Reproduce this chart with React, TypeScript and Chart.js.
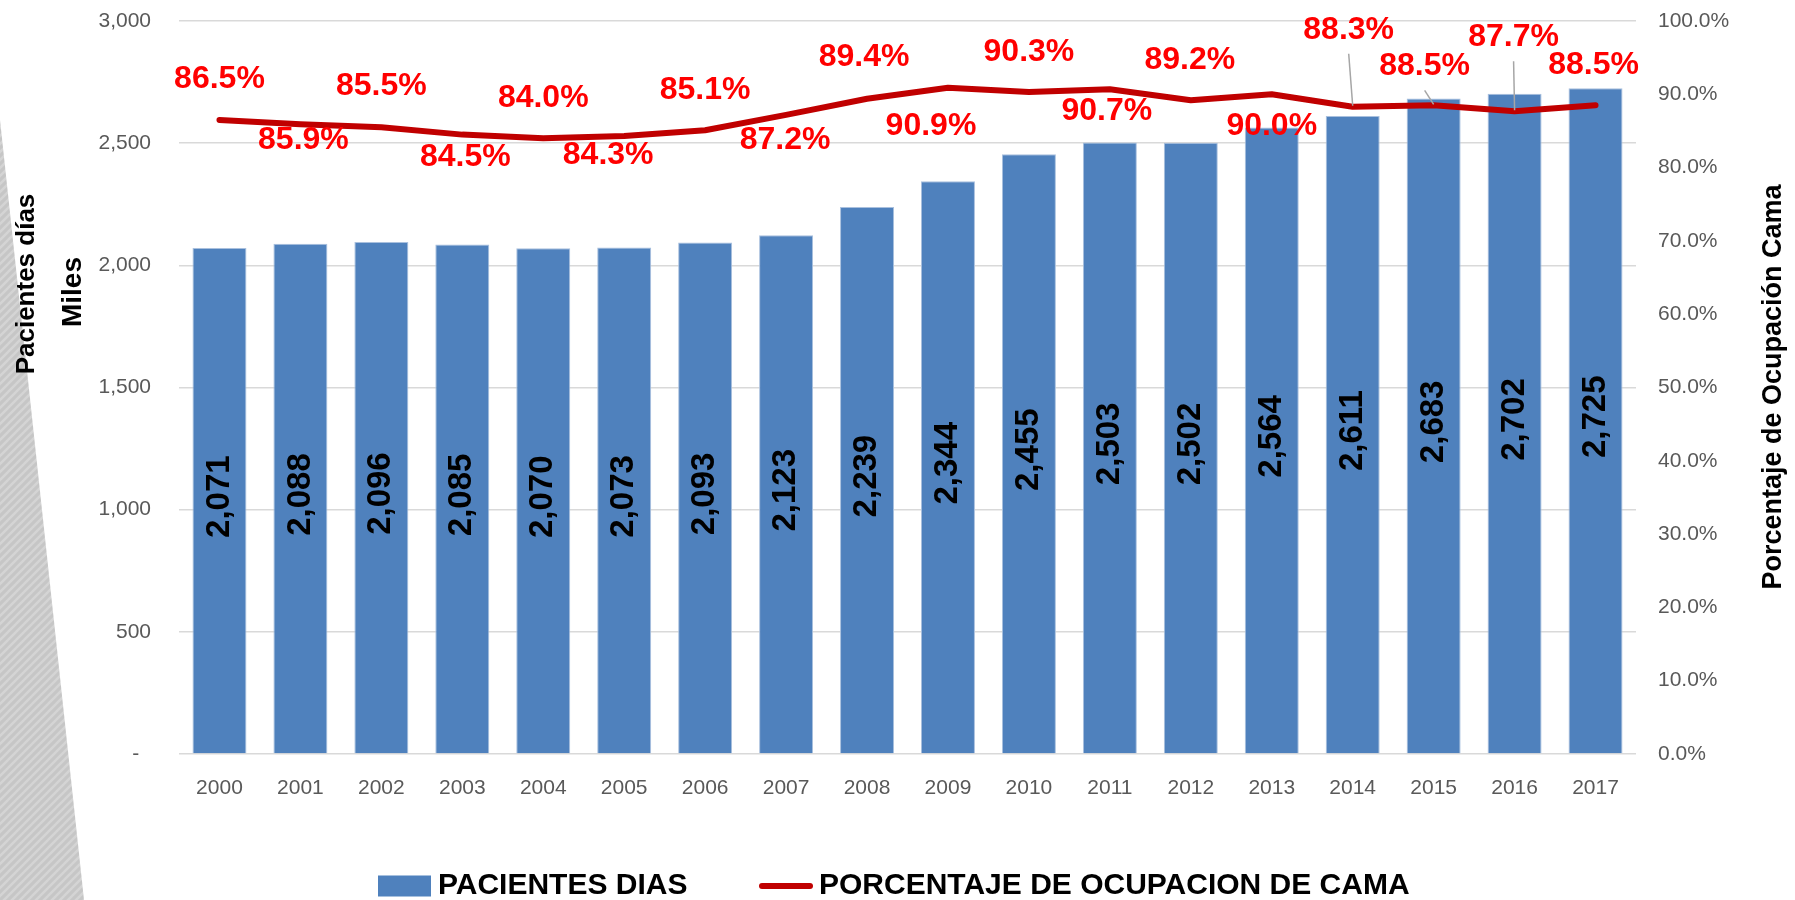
import React, { useEffect, useRef } from 'react';
import { Chart, registerables } from 'chart.js';

Chart.register(...registerables);

const years = ['2000', '2001', '2002', '2003', '2004', '2005', '2006', '2007', '2008', '2009', '2010', '2011', '2012', '2013', '2014', '2015', '2016', '2017'];
const pacientesDias = [2071, 2088, 2096, 2085, 2070, 2073, 2093, 2123, 2239, 2344, 2455, 2503, 2502, 2564, 2611, 2683, 2702, 2725];
const ocupacionCama = [86.5, 85.9, 85.5, 84.5, 84.0, 84.3, 85.1, 87.2, 89.4, 90.9, 90.3, 90.7, 89.2, 90.0, 88.3, 88.5, 87.7, 88.5];

const seriesBarName = 'PACIENTES DIAS';
const seriesLineName = 'PORCENTAJE DE OCUPACION DE CAMA';
const leftTitle = 'Pacientes días';
const leftUnits = 'Miles';
const rightTitle = 'Porcentaje de Ocupación Cama';

// label placement (offset from the point, px)
const pctLabelDy = [-41, 16, -41, 23, -40, 19, -40, 25, -42, 38, -40, 22, -40, 32, -77, -39, -74, -40];
const pctLabelDx = [0, 3, 0, 3, 0, -16, 0, -1, -3, -17, 0, -3, -1, 0, -4, -9, -1, -2];
const leaderIdx = [14, 15, 16];

const FONT = "'Liberation Sans', Arial, sans-serif";
const BAR_COLOR = '#4F81BD';
const LINE_COLOR = '#C00000';

const fmt = (v: number) => v.toLocaleString('en-US');

const decorPlugin = {
  id: 'decor',
  beforeDraw(chart: any) {
    const ctx = chart.ctx as CanvasRenderingContext2D;
    ctx.save();
    ctx.fillStyle = '#ffffff';
    ctx.fillRect(0, 0, chart.width, chart.height);
    const pc = document.createElement('canvas');
    pc.width = 8;
    pc.height = 8;
    const p = pc.getContext('2d')!;
    p.fillStyle = '#c6c6c6';
    p.fillRect(0, 0, 8, 8);
    p.strokeStyle = '#d4d4d4';
    p.lineWidth = 2.5;
    p.beginPath();
    p.moveTo(0, 8); p.lineTo(8, 0);
    p.moveTo(-4, 4); p.lineTo(4, -4);
    p.moveTo(4, 12); p.lineTo(12, 4);
    p.stroke();
    const pat = ctx.createPattern(pc, 'repeat');
    if (pat) ctx.fillStyle = pat;
    ctx.beginPath();
    ctx.moveTo(0, 120);
    ctx.lineTo(84, 900);
    ctx.lineTo(0, 900);
    ctx.closePath();
    ctx.fill();
    ctx.restore();
  },
  afterDatasetsDraw(chart: any) {
    const ctx = chart.ctx as CanvasRenderingContext2D;
    ctx.save();
    // bar value labels
    const barMeta = chart.getDatasetMeta(0);
    ctx.font = `bold 33px ${FONT}`;
    ctx.fillStyle = '#000000';
    ctx.textAlign = 'center';
    ctx.textBaseline = 'middle';
    barMeta.data.forEach((el: any, i: number) => {
      const cy = (el.y + el.base) / 2 - 4;
      ctx.save();
      ctx.translate(el.x, cy);
      ctx.rotate(-Math.PI / 2);
      ctx.fillText(fmt(pacientesDias[i]), 0, 0);
      ctx.restore();
    });
    // line labels
    const lineMeta = chart.getDatasetMeta(1);
    lineMeta.data.forEach((el: any, i: number) => {
      const lx = el.x + pctLabelDx[i];
      const ly = el.y + pctLabelDy[i];
      if (leaderIdx.includes(i)) {
        ctx.strokeStyle = '#a6a6a6';
        ctx.lineWidth = 1.5;
        ctx.beginPath();
        ctx.moveTo(lx, ly + 24);
        ctx.lineTo(el.x, el.y - 1);
        ctx.stroke();
      }
    });
    ctx.font = `bold 32px ${FONT}`;
    ctx.fillStyle = '#FF0000';
    lineMeta.data.forEach((el: any, i: number) => {
      const lx = el.x + pctLabelDx[i];
      const ly = el.y + pctLabelDy[i];
      ctx.fillText(ocupacionCama[i].toFixed(1) + '%', lx, ly);
    });
    ctx.restore();
  },
  afterDraw(chart: any) {
    const ctx = chart.ctx as CanvasRenderingContext2D;
    ctx.save();
    ctx.fillStyle = '#000000';
    ctx.textAlign = 'center';
    ctx.textBaseline = 'middle';
    // left titles
    ctx.font = `bold 26px ${FONT}`;
    ctx.save();
    ctx.translate(27, 284);
    ctx.rotate(-Math.PI / 2);
    ctx.fillText(leftTitle, 0, 0);
    ctx.restore();
    ctx.font = `bold 28px ${FONT}`;
    ctx.save();
    ctx.translate(73, 292);
    ctx.rotate(-Math.PI / 2);
    ctx.fillText(leftUnits, 0, 0);
    ctx.restore();
    // right title
    ctx.font = `bold 27px ${FONT}`;
    ctx.save();
    ctx.translate(1774, 387);
    ctx.rotate(-Math.PI / 2);
    ctx.fillText(rightTitle, 0, 0);
    ctx.restore();
    // legend
    const ly = 886;
    ctx.fillStyle = BAR_COLOR;
    ctx.fillRect(378, ly - 10.5, 53, 21);
    ctx.strokeStyle = LINE_COLOR;
    ctx.lineWidth = 6;
    ctx.lineCap = 'round';
    ctx.beginPath();
    ctx.moveTo(762, ly);
    ctx.lineTo(810, ly);
    ctx.stroke();
    ctx.fillStyle = '#000000';
    ctx.font = `bold 30px ${FONT}`;
    ctx.textAlign = 'left';
    ctx.fillText(seriesBarName, 438, ly);
    ctx.fillText(seriesLineName, 819, ly);
    ctx.restore();
  },
};

export default function App() {
  const ref = useRef<HTMLCanvasElement | null>(null);
  useEffect(() => {
    if (!ref.current) return;
    Chart.defaults.font.family = FONT;
    const chart = new Chart(ref.current, {
      type: 'bar',
      data: {
        labels: years,
        datasets: [
          {
            type: 'bar',
            label: seriesBarName,
            data: pacientesDias,
            backgroundColor: BAR_COLOR,
            borderColor: '#a9c0de',
            borderWidth: 1,
            barPercentage: 0.667,
            categoryPercentage: 1,
            yAxisID: 'y',
            order: 2,
          },
          {
            type: 'line',
            label: seriesLineName,
            data: ocupacionCama,
            borderColor: LINE_COLOR,
            backgroundColor: LINE_COLOR,
            borderWidth: 6,
            borderCapStyle: 'round',
            borderJoinStyle: 'round',
            pointRadius: 0,
            tension: 0,
            yAxisID: 'y2',
            order: 1,
          },
        ],
      } as any,
      options: {
        responsive: false,
        animation: false,
        layout: { padding: { top: 21, left: 0, right: 0, bottom: 0 } },
        plugins: {
          legend: { display: false },
          tooltip: { enabled: false },
        },
        scales: {
          x: {
            grid: { display: false, drawTicks: false },
            border: { display: false },
            ticks: { color: '#595959', font: { size: 21 }, padding: 22, maxRotation: 0 },
            afterFit: (s: any) => { s.height = 146; },
          },
          y: {
            position: 'left',
            min: 0,
            max: 3000,
            grid: { color: '#d9d9d9', lineWidth: 1.5, drawTicks: false },
            border: { display: false },
            ticks: {
              stepSize: 500,
              color: '#595959',
              font: { size: 21 },
              padding: 28,
              callback: (v: any) => (v === 0 ? '-  ' : fmt(Number(v))),
            },
            afterFit: (s: any) => { s.width = 179; s.paddingTop = 0; s.paddingBottom = 0; },
          },
          y2: {
            position: 'right',
            min: 0,
            max: 100,
            grid: { display: false, drawTicks: false },
            border: { display: false },
            ticks: {
              stepSize: 10,
              color: '#595959',
              font: { size: 21 },
              padding: 22,
              callback: (v: any) => Number(v).toFixed(1) + '%',
            },
            afterFit: (s: any) => { s.width = 159; s.paddingTop = 0; s.paddingBottom = 0; },
          },
        },
      } as any,
      plugins: [decorPlugin],
    });
    return () => chart.destroy();
  }, []);
  return (
    <div style={{ position: 'fixed', left: 0, top: 0, width: 1795, height: 900, background: '#fff' }}>
      <canvas ref={ref} width={1795} height={900} style={{ display: 'block' }} />
    </div>
  );
}
